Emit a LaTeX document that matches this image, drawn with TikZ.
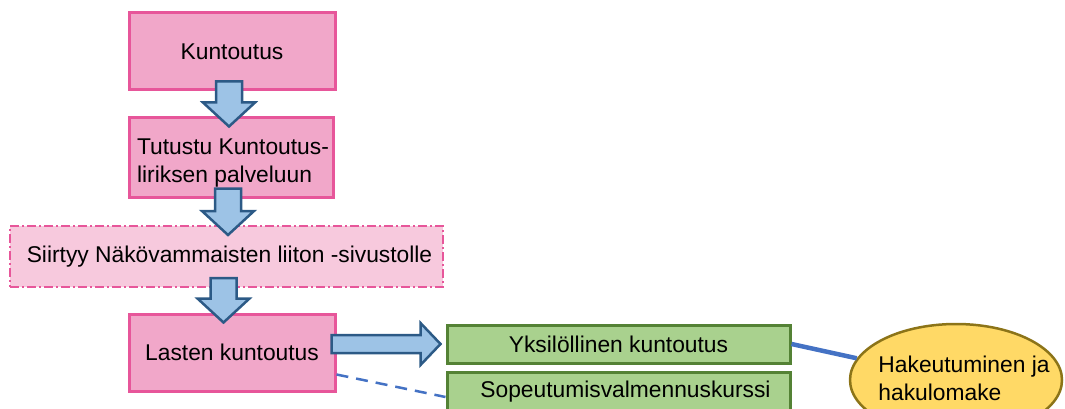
\documentclass[tikz,border=0pt]{standalone}
\usepackage{fontspec}
\setmainfont{Liberation Sans}
\usetikzlibrary{calc,shapes.geometric}

\definecolor{pinkfill}{HTML}{F1A7C9}
\definecolor{pinkline}{HTML}{E7569A}
\definecolor{lightpink}{HTML}{F7C9DD}
\definecolor{greenfill}{HTML}{A9D18E}
\definecolor{greenline}{HTML}{548235}
\definecolor{goldfill}{HTML}{FFD966}
\definecolor{goldline}{HTML}{8C7418}
\definecolor{arrowfill}{HTML}{9DC3E6}
\definecolor{arrowline}{HTML}{2C5A86}
\definecolor{linkblue}{HTML}{4472C4}

\tikzset{
  every node/.style={font=\fontsize{22.8}{28}\selectfont, inner sep=0pt},
  every label/.style={font=\fontsize{22.8}{28}\selectfont, inner sep=0pt},
  pinkbox/.style={draw=pinkline, fill=pinkfill, line width=3pt},
  dashbox/.style={draw=pinkline, fill=lightpink, line width=2pt,
    dash pattern=on 9pt off 3pt on 2pt off 3pt},
  greenbox/.style={draw=greenline, fill=greenfill, line width=3pt},
  goldoval/.style={ellipse, draw=goldline, fill=goldfill, line width=2.5pt},
  blockarrow/.style={draw=arrowline, fill=arrowfill, line width=2.5pt, line join=miter},
  link/.style={draw=linkblue, line width=4.5pt},
  dashlink/.style={draw=linkblue, line width=2.5pt, dash pattern=on 12pt off 8pt},
}

% downward block arrow from the bottom of #1 to the top of #2
\newcommand\downblock[2]{%
  \draw[blockarrow] let \p1=(#1.south), \p2=(#2.north) in
    (\x1-16pt,\y1+10pt) -- (\x1+10pt,\y1+10pt) -- (\x1+10pt,\y2+24pt-10pt)
    -- (\x1+23pt,\y2+24pt-10pt) -- (\x1-3pt,\y2-10pt) -- (\x1-29pt,\y2+24pt-10pt)
    -- (\x1-16pt,\y2+24pt-10pt) -- cycle;}

\begin{document}
\begin{tikzpicture}[x=1pt,y=-1pt]
  \useasboundingbox (0,0) rectangle (1065,409);

  % process boxes
  \node[pinkbox, minimum width=206pt, minimum height=77pt] (kunt) at (232,51.5) {Kuntoutus};
  \node[pinkbox, minimum width=204pt, minimum height=79pt,
    label={[align=left, xshift=2pt, yshift=-6pt]center:Tutustu Kuntoutus-\\liriksen palveluun}]
    (tutustu) at (231,157.5) {};
  \node[dashbox, minimum width=433pt, minimum height=61pt] (siirtyy) at (226.5,256.5)
    {\hspace*{6pt}Siirtyy Näkövammaisten liiton -sivustolle};
  \node[pinkbox, minimum width=206pt, minimum height=77pt] (lasten) at (232,352.5) {Lasten kuntoutus};

  % options
  \node[greenbox, minimum width=343pt, minimum height=38pt] (yks) at (618.5,344) {Yksilöllinen kuntoutus};
  \node[greenbox, minimum width=343pt, minimum height=40pt] (sop) at (618.5,392)
    {\hspace*{14pt}Sopeutumisvalmennuskurssi};
  \node[goldoval, minimum width=212pt, minimum height=112pt,
    label={[align=left, xshift=8pt, yshift=2pt]center:Hakeutuminen ja\\hakulomake}]
    (haku) at (956,380) {};

  % connectors
  \draw[link] (yks.east) -- (haku);
  \draw[dashlink] ($(lasten.east)+(0,22)$) -- ($(sop.west)+(0,5)$);

  % block arrows
  \downblock{kunt}{tutustu}
  \downblock{tutustu}{siirtyy}
  \downblock{siirtyy}{lasten}
  \draw[blockarrow] let \p1=(lasten.east), \p2=(yks.west) in
    (\x1-5pt,\y2+9pt) -- (\x2-25pt,\y2+9pt) -- (\x2-25pt,\y2+21pt) -- (\x2-5pt,\y2)
    -- (\x2-25pt,\y2-21pt) -- (\x2-25pt,\y2-9pt) -- (\x1-5pt,\y2-9pt) -- cycle;
\end{tikzpicture}
\end{document}
